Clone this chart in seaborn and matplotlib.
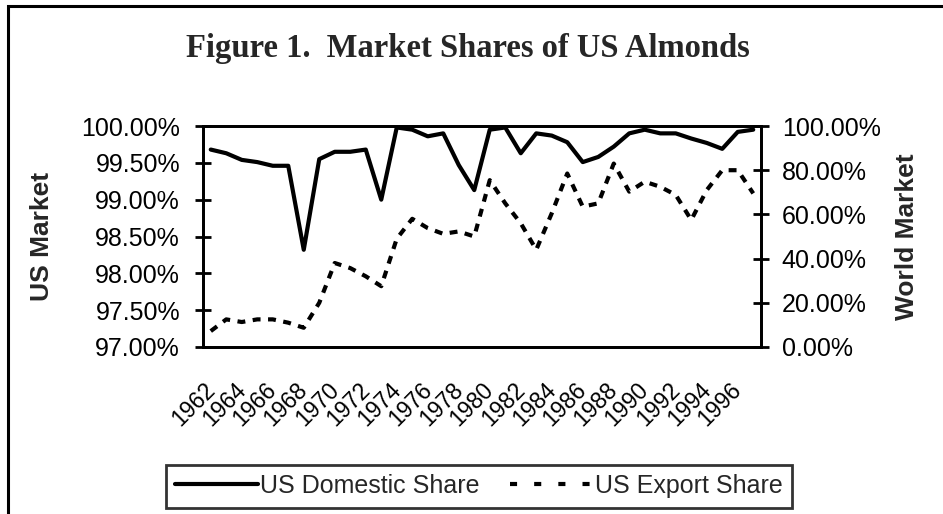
"""
Figure 1. Market Shares of US Almonds - domestic vs export share, twin axes.
"""

import numpy as np
import pandas as pd
import matplotlib
matplotlib.use("Agg")
import matplotlib.pyplot as plt
from matplotlib.ticker import FuncFormatter
from matplotlib.patches import Rectangle
from matplotlib.lines import Line2D
from matplotlib.transforms import ScaledTranslation
import seaborn as sns

# Data (percent)
years = list(range(1962, 1998))
domestic_share = [99.68, 99.63, 99.54, 99.51, 99.46, 99.46, 98.32, 99.55, 99.65, 99.65,
                  99.68, 99.00, 99.98, 99.95, 99.86, 99.90, 99.47, 99.13, 99.95, 99.98,
                  99.63, 99.90, 99.87, 99.78, 99.51, 99.58, 99.72, 99.90, 99.95, 99.90,
                  99.90, 99.83, 99.77, 99.69, 99.92, 99.95]
export_share = [7.2, 12.5, 11.3, 12.5, 12.5, 11.0, 8.7, 20.0, 38.0, 35.7,
                32.0, 27.5, 49.0, 58.0, 53.8, 51.2, 52.3, 50.0, 75.5, 65.0,
                56.0, 44.0, 60.5, 78.5, 63.5, 65.0, 83.0, 70.3, 74.8, 72.5,
                68.8, 57.5, 71.0, 80.0, 80.0, 69.5]
left_ticks = [97.0, 97.5, 98.0, 98.5, 99.0, 99.5, 100.0]
right_ticks = [0, 20, 40, 60, 80, 100]
year_labels = [str(y) for y in range(1962, 1998, 2)]
series_names = ["US Domestic Share", "US Export Share"]

df = pd.DataFrame({"year": years, "domestic": domestic_share, "export": export_share})

sns.set_theme(style="white")
plt.rcParams["font.family"] = ["Liberation Sans", "DejaVu Sans"]

W, H = 943, 514
fig = plt.figure(figsize=(W / 100, H / 100), dpi=100)
ax = fig.add_axes([203 / W, 1 - 347 / H, (761 - 203) / W, (347 - 126) / H])
ax2 = ax.twinx()

sns.lineplot(data=df, x="year", y="domestic", ax=ax, color="black", linewidth=3,
             legend=False)
sns.lineplot(data=df, x="year", y="export", ax=ax2, color="black", linewidth=3,
             legend=False)
ax2.lines[0].set_dashes((1.9, 1.8))

ax.set_xlim(1961.5, 1997.5)
ax.set_ylim(97, 100)
ax2.set_ylim(0, 100)
ax.set_yticks(left_ticks)
ax2.set_yticks(right_ticks)
pct = FuncFormatter(lambda v, p: f"{v:.2f}%")
ax.yaxis.set_major_formatter(pct)
ax2.yaxis.set_major_formatter(pct)

# category-style axis: ticks on the boundaries, one label every two years
tick_pos = [y - 0.5 for y in range(1962, 1999, 2)]
ax.set_xticks(tick_pos)
ax.set_xticklabels(year_labels + [""], rotation=45, ha="right", va="top",
                   rotation_mode="anchor", fontsize=16.5)
shift = ScaledTranslation(-9 / 100, 0, fig.dpi_scale_trans)
for lab in ax.get_xticklabels():
    lab.set_transform(lab.get_transform() + shift)

for a in (ax, ax2):
    for s in a.spines.values():
        s.set_color("black")
        s.set_linewidth(2)
    a.tick_params(direction="inout", length=11, width=2, colors="black")
    a.grid(False)
ax.tick_params(axis="x", pad=17)
ax.tick_params(axis="y", labelsize=18, pad=11)
ax2.tick_params(axis="y", labelsize=18, pad=9.5)

ax.set_xlabel("")
ax.set_ylabel("")
ax2.set_ylabel("")
fig.text(42 / W, 1 - 236.5 / H, "US Market", rotation=90, ha="center", va="center",
         fontsize=19, fontweight="bold")
fig.text(907 / W, 1 - 236.5 / H, "World Market", rotation=90, ha="center",
         va="center", fontsize=19, fontweight="bold")

fig.text(0.496, 1 - 48 / H, "Figure 1.  Market Shares of US Almonds",
         ha="center", va="center", fontsize=23.5, fontweight="bold",
         family=["Liberation Serif", "DejaVu Serif"])

# Outer chart border (left and top edges visible in the reference)
fig.add_artist(Rectangle((8 / W, -0.2), 1.2, 1.2 - 6 / H, transform=fig.transFigure,
                         fill=False, edgecolor="black", linewidth=2.2))

handles = [Line2D([], [], color="black", linewidth=3),
           Line2D([], [], color="black", linewidth=3, dashes=(1.7, 4.1))]
leg = fig.legend(handles, series_names, ncol=2, loc="center",
                 bbox_to_anchor=(479 / W, 1 - 486 / H), fontsize=18, frameon=True,
                 fancybox=False, edgecolor="black", handlelength=3.3,
                 handletextpad=0.1, columnspacing=1.2, borderpad=0.38)
leg.get_frame().set_linewidth(2)

plt.savefig("out.png", dpi=100)
